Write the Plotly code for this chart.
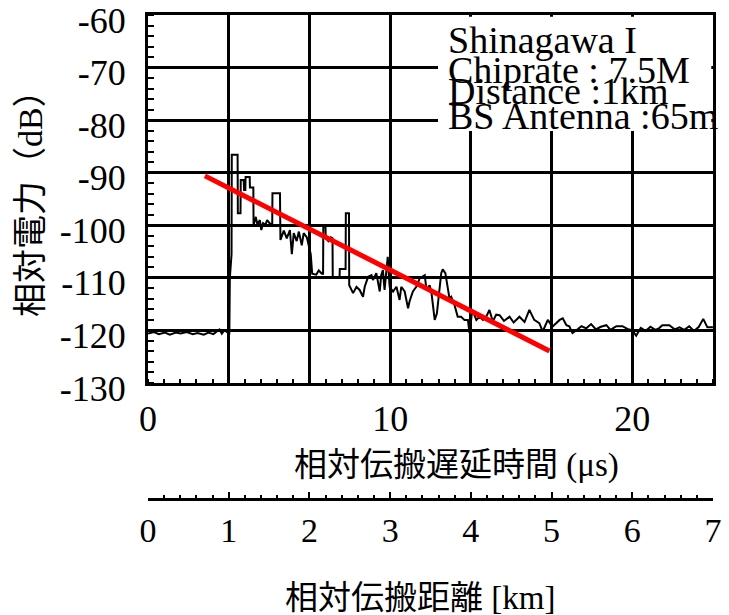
import plotly.graph_objects as go

# ---- data ----
delay_us = [0.0, 0.25, 0.45, 0.7, 0.9, 1.15, 1.35, 1.6, 1.85, 2.05, 2.3, 2.5, 2.7, 2.85, 2.95, 3.05,
            3.15, 3.3, 3.36, 3.38, 3.45, 3.46, 3.70, 3.71, 3.82, 3.83, 3.95, 3.97, 4.02, 4.03,
            4.20, 4.21, 4.35, 4.36, 4.45, 4.52, 4.62, 4.68, 4.75, 4.85, 4.92, 5.02, 5.13, 5.14,
            5.45, 5.47, 5.61, 5.73, 5.86, 5.94, 6.02, 6.14, 6.23, 6.35, 6.43, 6.56, 6.64, 6.72,
            6.78, 6.95, 7.05, 7.18, 7.23, 7.24, 7.33, 7.34, 7.45, 7.55, 7.62, 7.63, 7.91, 7.92,
            8.16, 8.17, 8.30, 8.31, 8.47, 8.61, 8.74, 8.88, 8.95, 9.09, 9.23, 9.29, 9.43, 9.57,
            9.63, 9.70, 9.77, 9.90, 9.98, 10.12, 10.26, 10.39, 10.46, 10.60, 10.74, 10.80, 10.94,
            11.08, 11.22, 11.35, 11.43, 11.50, 11.63, 11.70, 11.77, 11.84, 11.93, 12.04, 12.11,
            12.17, 12.28, 12.38, 12.45, 12.52, 12.66, 12.79, 12.93, 13.07, 13.21, 13.28, 13.39,
            13.56, 13.69, 13.83, 13.97, 14.10, 14.24, 14.38, 14.52, 14.70, 14.93, 15.10, 15.34,
            15.55, 15.75, 15.95, 16.16, 16.30, 16.51, 16.70, 16.85, 17.00, 17.13, 17.28, 17.40,
            17.53, 17.68, 17.90, 18.10, 18.30, 18.50, 18.70, 18.93, 19.10, 19.34, 19.59, 19.80,
            20.00, 20.16, 20.35, 20.55, 20.75, 20.95, 21.10, 21.24, 21.53, 21.75, 21.95, 22.15,
            22.35, 22.55, 22.75, 22.93, 23.10, 23.33]
power_db = [-120.6, -120.3, -120.7, -120.4, -120.8, -120.4, -120.6, -120.3, -120.7, -120.5, -120.8,
            -120.4, -120.7, -120.2, -119.8, -120.6, -120.0, -120.4, -120.5, -110.0, -105.5, -86.6,
            -86.6, -97.7, -97.7, -91.4, -91.4, -93.3, -93.3, -90.8, -90.8, -92.8, -92.8, -100.0,
            -98.4, -99.9, -99.0, -100.9, -99.6, -99.9, -99.0, -99.6, -99.9, -93.9, -93.9, -102.8,
            -101.0, -102.5, -100.9, -105.5, -101.5, -103.0, -101.2, -103.8, -101.5, -102.3, -104.0,
            -105.5, -109.2, -109.4, -108.6, -109.2, -109.2, -100.3, -100.3, -102.5, -103.0, -102.3,
            -102.5, -110.0, -110.0, -108.3, -108.3, -97.7, -97.7, -111.4, -112.9, -111.7, -112.3,
            -113.6, -111.7, -109.8, -109.5, -110.4, -109.1, -112.6, -109.5, -108.5, -112.3, -106.0,
            -111.7, -112.6, -111.7, -114.2, -111.7, -112.6, -115.8, -114.5, -112.6, -111.7, -110.1,
            -109.8, -109.5, -112.3, -111.4, -112.6, -115.2, -118.0, -116.8, -111.7, -109.1, -108.4,
            -109.1, -111.9, -113.9, -113.6, -115.2, -117.4, -117.4, -118.0, -118.0, -120.5, -116.1,
            -118.0, -117.4, -118.0, -117.4, -116.1, -118.3, -117.0, -117.1, -118.2, -117.4, -118.5,
            -117.4, -118.4, -116.1, -118.0, -118.6, -120.2, -118.0, -119.3, -118.6, -118.0, -117.7,
            -119.0, -119.2, -120.5, -120.0, -119.2, -119.6, -118.8, -119.8, -119.3, -119.0, -119.9,
            -119.2, -119.2, -119.7, -120.0, -121.0, -119.5, -120.1, -119.3, -119.9, -119.6, -119.0,
            -119.0, -119.8, -119.4, -119.9, -119.2, -120.1, -119.3, -117.8, -119.4, -119.4]

fit_us = [2.35, 16.58]
fit_db = [-90.6, -123.9]

db_ticks = [-130, -120, -110, -100, -90, -80, -70, -60]
db_labels = ["-130", "-120", "-110", "-100", "-90", "-80", "-70", "-60"]

km_ticks = [0, 1, 2, 3, 4, 5, 6, 7]
us_per_km = 10 / 3
us_grid = [k * us_per_km for k in km_ticks]
us_labels = ["0", "", "", "10", "", "", "20", ""]

info_lines = ["Shinagawa I", "Chiprate : 7.5M", "Distance :1km", "BS Antenna :65m"]
info_baseline_px = [52, 82, 103, 128]

SERIF = "Liberation Serif, Times New Roman, serif"
MIXED = "Liberation Serif, Noto Sans CJK JP, serif"

W, H = 729, 615
L, R, T, B = 148, 16, 15, 116
PW, PH = W - L - R, H - T - B
y_dom0 = (H - B - 383) / PH

def px_x(x):
    return (x - L) / PW

def px_y(y):
    return (H - B - y) / PH

fig = go.Figure()
fig.add_trace(go.Scatter(x=delay_us, y=power_db, mode="lines",
                         line=dict(color="black", width=2), showlegend=False, hoverinfo="skip"))
fig.add_trace(go.Scatter(x=fit_us, y=fit_db, mode="lines",
                         line=dict(color="#ff0000", width=5), showlegend=False, hoverinfo="skip"))
fig.add_trace(go.Scatter(x=[km_ticks[0], km_ticks[-1]], y=[-200, -200], mode="markers",
                         marker=dict(opacity=0), xaxis="x2", yaxis="y",
                         showlegend=False, hoverinfo="skip"))

fig.update_layout(
    width=W, height=H,
    margin=dict(l=L, r=R, t=T, b=B, autoexpand=False),
    paper_bgcolor="white", plot_bgcolor="white",
    xaxis=dict(range=[0, us_grid[-1]], tickmode="array", tickvals=us_grid, ticktext=us_labels,
               automargin=False,
               showgrid=True, gridcolor="black", gridwidth=3, zeroline=False,
               showline=True, linecolor="black", linewidth=3, mirror=True,
               ticks="", tickfont=dict(family=SERIF, size=36, color="black"),
               ticklabelstandoff=2,
               minor=dict(tickmode="linear", tick0=0, dtick=2 / 3, ticks="inside",
                          ticklen=4, tickwidth=1.5, tickcolor="black", showgrid=False)),
    yaxis=dict(domain=[y_dom0, 1], range=[-130, -60], tickmode="array", tickvals=db_ticks,
               ticktext=db_labels, ticklabeloverflow="allow", automargin=False,
               showgrid=True, gridcolor="black", gridwidth=3, zeroline=False,
               showline=True, linecolor="black", linewidth=3, mirror=True,
               ticks="", tickfont=dict(family=SERIF, size=36, color="black"),
               ticklabelstandoff=12, ticklabelshift=5,
               minor=dict(tickmode="linear", tick0=-130, dtick=2, ticks="inside",
                          ticklen=6, tickwidth=1.5, tickcolor="black", showgrid=False)),
    xaxis2=dict(overlaying="x", anchor="free", position=0, side="bottom", automargin=False,
                range=[km_ticks[0], km_ticks[-1]], tickmode="array", tickvals=km_ticks,
                showgrid=False, zeroline=False, showline=True, linecolor="black", linewidth=2.5,
                ticks="inside", ticklen=6, tickwidth=2, tickcolor="black",
                tickfont=dict(family=SERIF, size=34, color="black"),
                minor=dict(tickmode="linear", tick0=0, dtick=0.2, ticks="inside",
                           ticklen=3, tickwidth=1.5, tickcolor="black")),
)

# white box behind the info text
fig.add_shape(type="rect", xref="paper", yref="paper", layer="above",
              x0=px_x(438), x1=px_x(711.3), y0=px_y(131), y1=px_y(16.7),
              fillcolor="white", line=dict(width=0))

for txt, base in zip(info_lines, info_baseline_px):
    fig.add_annotation(text=txt, xref="paper", yref="paper", x=px_x(446), y=px_y(base - 12),
                       xanchor="left", yanchor="middle", showarrow=False,
                       font=dict(family=SERIF, size=38, color="black"))

fig.add_annotation(text="相対電力（dB）", xref="paper", yref="paper",
                   x=px_x(30), y=px_y(195), textangle=-90, showarrow=False,
                   xanchor="center", yanchor="middle",
                   font=dict(family=MIXED, size=34, color="black"))
fig.add_annotation(text="相対伝搬遅延時間 (μs)", xref="paper", yref="paper",
                   x=px_x(456), y=px_y(465), showarrow=False,
                   xanchor="center", yanchor="middle",
                   font=dict(family=MIXED, size=33, color="black"))
fig.add_annotation(text="相対伝搬距離 [km]", xref="paper", yref="paper",
                   x=px_x(420), y=px_y(598), showarrow=False,
                   xanchor="center", yanchor="middle",
                   font=dict(family=MIXED, size=33, color="black"))

fig.write_html("out.html")
